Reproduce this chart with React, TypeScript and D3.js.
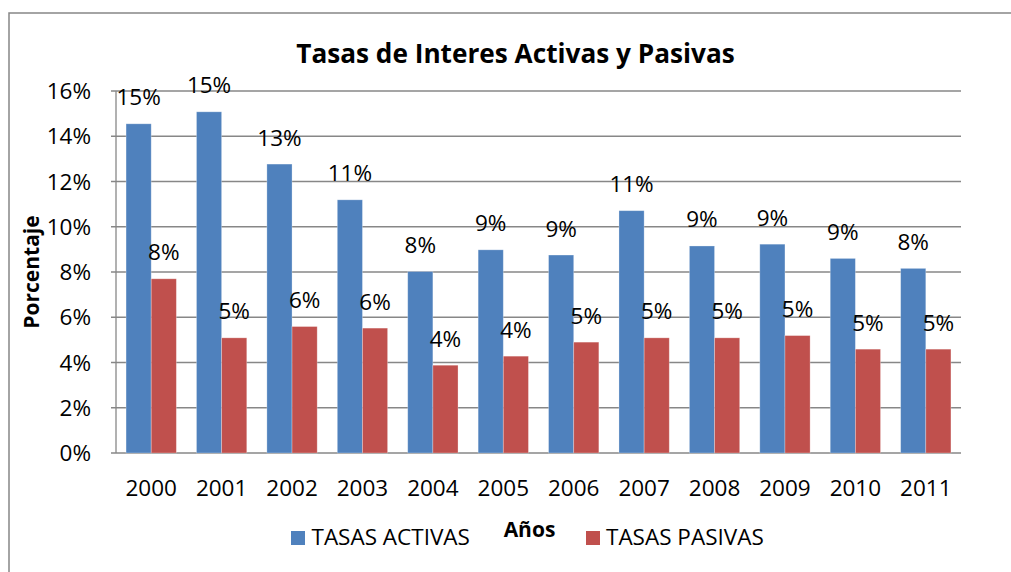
import React from "react";
import * as d3 from "d3";

const years = ["2000","2001","2002","2003","2004","2005","2006","2007","2008","2009","2010","2011"];
const tasasActivas = [0.1455, 0.1508, 0.1277, 0.1119, 0.0802, 0.0898, 0.0875, 0.1071, 0.0915, 0.0923, 0.0860, 0.0816];
const tasasPasivas = [0.0770, 0.0509, 0.0559, 0.0552, 0.0388, 0.0428, 0.0490, 0.0509, 0.0509, 0.0519, 0.0459, 0.0459];
const yTicks = [0, 0.02, 0.04, 0.06, 0.08, 0.10, 0.12, 0.14, 0.16];
const seriesNames = ["TASAS ACTIVAS", "TASAS PASIVAS"];
const seriesColors = ["#4F81BD", "#C0504D"];
const title = "Tasas de Interes Activas y Pasivas";
const xTitle = "Años";
const yTitle = "Porcentaje";

const W = 1011, H = 572;
const font = "'Open Sans', 'Noto Sans', sans-serif";
const fs = 22.5;

export default function App() {
  const left = 116, right = 961, top = 91, bottom = 453;
  const x0 = d3.scaleBand<string>().domain(years).range([left, right]).paddingInner(0).paddingOuter(0);
  const x1 = d3.scaleBand<number>().domain([0, 1]).range([0, x0.bandwidth()]).paddingInner(0).paddingOuter(0.4);
  const y = d3.scaleLinear().domain([0, 0.16]).range([bottom, top]);
  const pct = d3.format(".0%");
  const series = [tasasActivas, tasasPasivas];

  return (
    <svg width={W} height={H} style={{ position: "absolute", left: 0, top: 0, background: "#fff" }} fontFamily={font}>
      <rect x={9} y={13} width={W + 20} height={H + 20} fill="#fff" stroke="#868686" strokeWidth={1.5} />
      <text x={515.5} y={63} textAnchor="middle" fontWeight="bold" fontSize={26.2} fill="#000">{title}</text>
      {yTicks.map((t) => (
        <g key={t}>
          <line x1={left - 5} x2={right} y1={y(t)} y2={y(t)} stroke="#878787" strokeWidth={1.3} />
          <text x={91} y={y(t)} dy="0.36em" textAnchor="end" fontSize={fs} fill="#000">{pct(t)}</text>
        </g>
      ))}
      <line x1={left} x2={left} y1={top} y2={bottom} stroke="#878787" strokeWidth={1.3} />
      {series.map((vals, si) => (
        <g key={si}>
          {vals.map((v, i) => (
            <rect key={i} x={(x0(years[i]) as number) + (x1(si) as number)} y={y(v)} width={x1.bandwidth()} height={bottom - y(v)}
              fill={seriesColors[si]} stroke="#ffffff" strokeOpacity={0.35} strokeWidth={0.8} />
          ))}
        </g>
      ))}
      {series.map((vals, si) => (
        <g key={"l" + si}>
          {vals.map((v, i) => (
            <text key={i} x={(x0(years[i]) as number) + (x1(si) as number) + x1.bandwidth() / 2} y={y(v) - 18.5}
              textAnchor="middle" fontSize={fs} fill="#000">{pct(v)}</text>
          ))}
        </g>
      ))}
      {years.map((yr) => (
        <text key={yr} x={(x0(yr) as number) + x0.bandwidth() / 2} y={496} textAnchor="middle" fontSize={fs} fill="#000">{yr}</text>
      ))}
      <text transform={`translate(39,${272}) rotate(-90)`} textAnchor="middle" fontWeight="bold" fontSize={21} fill="#000">{yTitle}</text>
      <text x={529.5} y={537} textAnchor="middle" fontWeight="bold" fontSize={21} fill="#000">{xTitle}</text>
      <rect x={291} y={531} width={14} height={14} fill={seriesColors[0]} />
      <text x={311.5} y={545} fontSize={fs} fill="#000">{seriesNames[0]}</text>
      <rect x={586} y={531} width={14} height={14} fill={seriesColors[1]} />
      <text x={606} y={545} fontSize={fs} fill="#000">{seriesNames[1]}</text>
    </svg>
  );
}
